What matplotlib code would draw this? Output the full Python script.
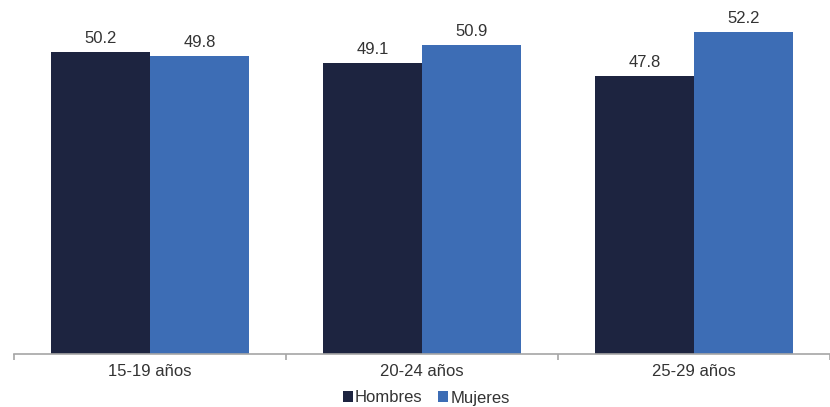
import matplotlib
matplotlib.use("Agg")
import matplotlib.pyplot as plt
import numpy as np

plt.rcParams['font.family'] = ['Liberation Sans', 'DejaVu Sans']

# grupos de edad y porcentajes por sexo
grupos = ["15-19 años", "20-24 años", "25-29 años"]
hombres = [50.2, 49.1, 47.8]
mujeres = [49.8, 50.9, 52.2]

col_h = "#1d2440"
col_m = "#3d6db5"
texto = "#333333"

fig = plt.figure(figsize=(8.3, 4.07), dpi=100)
ax = fig.add_axes([14/830, 53/407, 816/830, 353/407])

x = np.arange(len(grupos))
ancho = 0.365
b1 = ax.bar(x - ancho/2, hombres, ancho, color=col_h, label="Hombres")
b2 = ax.bar(x + ancho/2, mujeres, ancho, color=col_m, label="Mujeres")

for barras in (b1, b2):
    for b in barras:
        ax.annotate(f"{b.get_height():.1f}", (b.get_x() + b.get_width()/2, b.get_height()),
                    xytext=(0, 4), textcoords="offset points", ha="center", va="bottom",
                    fontsize=12, color=texto)

ax.set_xlim(-0.5, 2.5)
ax.set_ylim(20, 55.3)
ax.set_yticks([])
for s in ["top", "right", "left"]:
    ax.spines[s].set_visible(False)
ax.spines["bottom"].set_color("#a6a6a6")
ax.spines["bottom"].set_linewidth(1.2)

ax.set_xticks(x)
ax.set_xticklabels(grupos, fontsize=12, color=texto)
ax.tick_params(axis="x", which="major", length=0, pad=7)
ax.set_xticks([-0.5, 0.5, 1.5, 2.5], minor=True)
ax.tick_params(axis="x", which="minor", length=4, color="#a6a6a6", width=1.2)

ax.legend(loc="center", bbox_to_anchor=(426/830, 9/407), bbox_transform=fig.transFigure,
          ncol=2, frameon=False, fontsize=12, handlelength=0.6, handleheight=0.6,
          handletextpad=0.1, columnspacing=1.0, labelcolor=texto, borderpad=0)

fig.savefig("out.png", dpi=100)
